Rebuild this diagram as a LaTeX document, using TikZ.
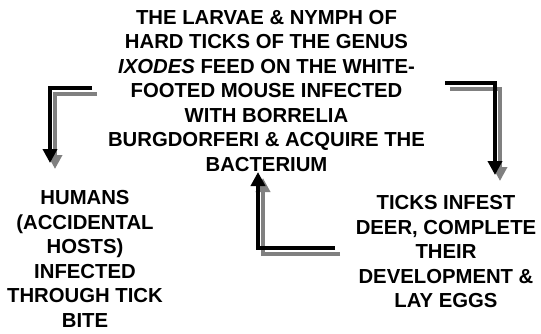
\documentclass[tikz,border=0pt]{standalone}
\usepackage{fontspec}
\setmainfont{Liberation Sans}
\usetikzlibrary{arrows.meta}

\begin{document}
\begin{tikzpicture}[
  x=1pt, y=-1pt,
  txt/.style={align=center, inner sep=0pt, font=\bfseries\fontsize{20.3}{24.5}\selectfont},
  arrow/.style={-{Triangle[width=14pt, length=14pt]}, line width=4pt},
  shadowarrow/.style={arrow, draw=gray, -{Triangle[width=14pt, length=14pt, fill=gray]}}
]
  \useasboundingbox (0,0) rectangle (541,333);

  % Texts
  \node[txt] (larvae) at (266.5, 91) {THE LARVAE \& NYMPH OF\\HARD TICKS OF THE GENUS\\\textit{IXODES} FEED ON THE WHITE-\\FOOTED MOUSE INFECTED\\WITH BORRELIA\\BURGDORFERI \& ACQUIRE THE\\BACTERIUM};
  \node[txt] (humans) at (85, 259) {HUMANS\\(ACCIDENTAL\\HOSTS)\\INFECTED\\THROUGH TICK\\BITE};
  \node[txt] (deer) at (446, 252) {TICKS INFEST\\DEER, COMPLETE\\THEIR\\DEVELOPMENT \&\\LAY EGGS};

  % Arrow ends
  \coordinate (toleft) at (92, 88);
  \coordinate (tohumans) at (50, 163);
  \coordinate (toright) at (445, 83);
  \coordinate (todeer) at (495, 175);
  \coordinate (fromdeer) at (335, 248);
  \coordinate (tolarvae) at (258, 172);

  % Shadows
  \draw[shadowarrow] ([shift={(5,6)}]toleft) -| ([shift={(5,6)}]tohumans);
  \draw[shadowarrow] ([shift={(5,6)}]toright) -| ([shift={(5,6)}]todeer);
  \draw[shadowarrow] ([shift={(5,6)}]fromdeer) -| ([shift={(5,6)}]tolarvae);

  % Arrows
  \draw[arrow] (toleft) -| (tohumans);
  \draw[arrow] (toright) -| (todeer);
  \draw[arrow] (fromdeer) -| (tolarvae);
\end{tikzpicture}
\end{document}
